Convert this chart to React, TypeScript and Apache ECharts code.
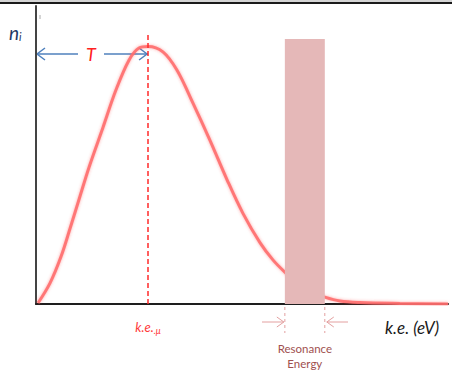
import React, { useEffect, useRef } from "react";
import * as echarts from "echarts";

// kinetic energy (arbitrary eV units) and relative population n_i
const keValues = [0.05, 0.34, 0.61, 0.83, 1.04, 1.29, 1.63, 1.94, 2.26, 2.5, 2.72, 3.08, 3.42, 3.81, 4.22, 4.64, 5.02, 5.44, 5.75, 6.04, 6.53, 7.01, 7.38, 7.86, 8.83, 10];
const population = [0.34, 7.0, 16.0, 25.5, 34.9, 46.0, 59.4, 71.8, 81.9, 85.9, 86.4, 84.6, 78.5, 67.4, 55.0, 41.6, 30.5, 20.5, 14.8, 10.7, 4.7, 2.3, 1.0, 0.5, 0.2, 0];
const kePeak = 2.72;
const kePeakLineTop = 91.3;
const resonanceRange = [6.04, 7.01];
const resonanceHeight = 88.9;
const tArrowLevel = 83.9;

const FONT = "Lato, 'Open Sans', sans-serif";

export default function App() {
  const ref = useRef<HTMLDivElement>(null);
  useEffect(() => {
    const chart = echarts.init(ref.current!, null, { renderer: "svg" });
    chart.setOption({
      animation: false,
      backgroundColor: "#ffffff",
      grid: { left: 36, right: 4, top: 6, bottom: 66 },
      xAxis: {
        type: "value",
        min: 0,
        max: 10,
        axisLine: { show: true, lineStyle: { color: "#1e1e1e", width: 2 } },
        axisTick: { show: false },
        axisLabel: { show: false },
        splitLine: { show: false },
      },
      yAxis: {
        type: "value",
        min: 0,
        max: 100,
        axisLine: { show: true, lineStyle: { color: "#444444", width: 2 } },
        axisTick: { show: false },
        axisLabel: { show: false },
        splitLine: { show: false },
      },
      series: [
        {
          type: "line",
          data: keValues.map((x, i) => [x, population[i]]),
          smooth: 0.35,
          symbol: "none",
          z: 2,
          lineStyle: {
            color: "rgba(255,110,110,0.9)",
            width: 3,
            shadowBlur: 3,
            shadowColor: "rgba(255,60,60,0.5)",
          },
          markLine: {
            silent: true,
            symbol: ["none", "none"],
            label: { show: false },
            lineStyle: { type: [5, 3], color: "#ff2a2a", width: 1.5 },
            data: [[{ coord: [kePeak, 0] }, { coord: [kePeak, kePeakLineTop] }]],
          },
        },
        {
          type: "line",
          data: resonanceRange.map((x) => [x, resonanceHeight]),
          symbol: "none",
          z: 5,
          lineStyle: { width: 0 },
          areaStyle: { color: "#e5b8b8", opacity: 1 },
        },
      ],
    });

    const px = (x: number, y: number) => chart.convertToPixel({ gridIndex: 0 }, [x, y]) as number[];
    const origin = px(0, 0);
    const peak = px(kePeak, tArrowLevel);
    const r0 = px(resonanceRange[0], 0);
    const r1 = px(resonanceRange[1], 0);
    const ay = peak[1];
    const blue = "#4f81bd";
    const pink = "#e3a0a0";
    const ry = 322;

    chart.setOption({
      graphic: [
        { type: "rect", shape: { x: 0, y: 0, width: 452, height: 2 }, style: { fill: "#d4d4d4" } },
        { type: "rect", shape: { x: 0, y: 2, width: 452, height: 2 }, style: { fill: "#1a1a1a" } },
        { type: "line", shape: { x1: 40, y1: 15, x2: 40, y2: 19 }, style: { stroke: "#aaaaaa", lineWidth: 1 } },
        {
          type: "text",
          x: 9,
          y: 22,
          style: {
            text: "{n|n}{i|i}",
            rich: {
              n: { fontFamily: FONT, fontStyle: "italic", fontSize: 19, fill: "#1f3864" },
              i: { fontFamily: FONT, fontStyle: "italic", fontSize: 11, fill: "#1f3864", padding: [9, 0, 0, 0] },
            },
          },
        },
        // T arrows
        { type: "line", shape: { x1: origin[0], y1: ay, x2: 78, y2: ay }, style: { stroke: blue, lineWidth: 1.5 } },
        {
          type: "polyline",
          shape: { points: [[origin[0] + 9, ay - 6], [origin[0] + 1, ay], [origin[0] + 9, ay + 6]] },
          style: { stroke: blue, lineWidth: 1.5, fill: "none" },
        },
        { type: "line", shape: { x1: 104, y1: ay, x2: peak[0], y2: ay }, style: { stroke: blue, lineWidth: 1.5 } },
        {
          type: "polyline",
          shape: { points: [[peak[0] - 9, ay - 6], [peak[0] - 1, ay], [peak[0] - 9, ay + 6]] },
          style: { stroke: blue, lineWidth: 1.5, fill: "none" },
        },
        {
          type: "text",
          x: 91,
          y: ay,
          style: {
            text: "T",
            fontFamily: FONT,
            fontStyle: "italic",
            fontSize: 18,
            fill: "#ff2020",
            align: "center",
            verticalAlign: "middle",
          },
        },
        // k.e. mu label
        {
          type: "text",
          x: peak[0],
          y: 327,
          style: {
            text: "{a|k.e.}{b|.μ}",
            align: "center",
            verticalAlign: "middle",
            rich: {
              a: { fontFamily: FONT, fontStyle: "italic", fontSize: 13, fill: "#ff3a3a" },
              b: { fontFamily: FONT, fontStyle: "italic", fontSize: 9, fill: "#ff3a3a", padding: [6, 0, 0, 0] },
            },
          },
        },
        {
          type: "text",
          x: 385,
          y: 327,
          style: {
            text: "k.e. (eV)",
            fontFamily: FONT,
            fontStyle: "italic",
            fontSize: 17,
            fill: "#1a1a1a",
            align: "left",
            verticalAlign: "middle",
          },
        },
        // resonance markers
        { type: "line", shape: { x1: r0[0], y1: origin[1] + 3, x2: r0[0], y2: 333 }, style: { stroke: pink, lineWidth: 1, lineDash: [3, 3] } },
        { type: "line", shape: { x1: r1[0], y1: origin[1] + 3, x2: r1[0], y2: 333 }, style: { stroke: pink, lineWidth: 1, lineDash: [3, 3] } },
        { type: "line", shape: { x1: 262, y1: ry, x2: r0[0] - 1, y2: ry }, style: { stroke: pink, lineWidth: 1 } },
        {
          type: "polyline",
          shape: { points: [[r0[0] - 8, ry - 5], [r0[0] - 1, ry], [r0[0] - 8, ry + 5]] },
          style: { stroke: pink, lineWidth: 1, fill: "none" },
        },
        { type: "line", shape: { x1: 348, y1: ry, x2: r1[0] + 2, y2: ry }, style: { stroke: pink, lineWidth: 1 } },
        {
          type: "polyline",
          shape: { points: [[r1[0] + 9, ry - 5], [r1[0] + 2, ry], [r1[0] + 9, ry + 5]] },
          style: { stroke: pink, lineWidth: 1, fill: "none" },
        },
        {
          type: "text",
          x: (r0[0] + r1[0]) / 2,
          y: 356,
          style: {
            text: "Resonance\nEnergy",
            fontFamily: FONT,
            fontSize: 11.5,
            lineHeight: 15,
            fill: "#a0504f",
            align: "center",
            verticalAlign: "middle",
          },
        },
      ],
    });

    return () => chart.dispose();
  }, []);
  return (
    <div
      ref={ref}
      style={{ position: "absolute", left: 0, top: 0, width: 452, height: 370 }}
    />
  );
}
